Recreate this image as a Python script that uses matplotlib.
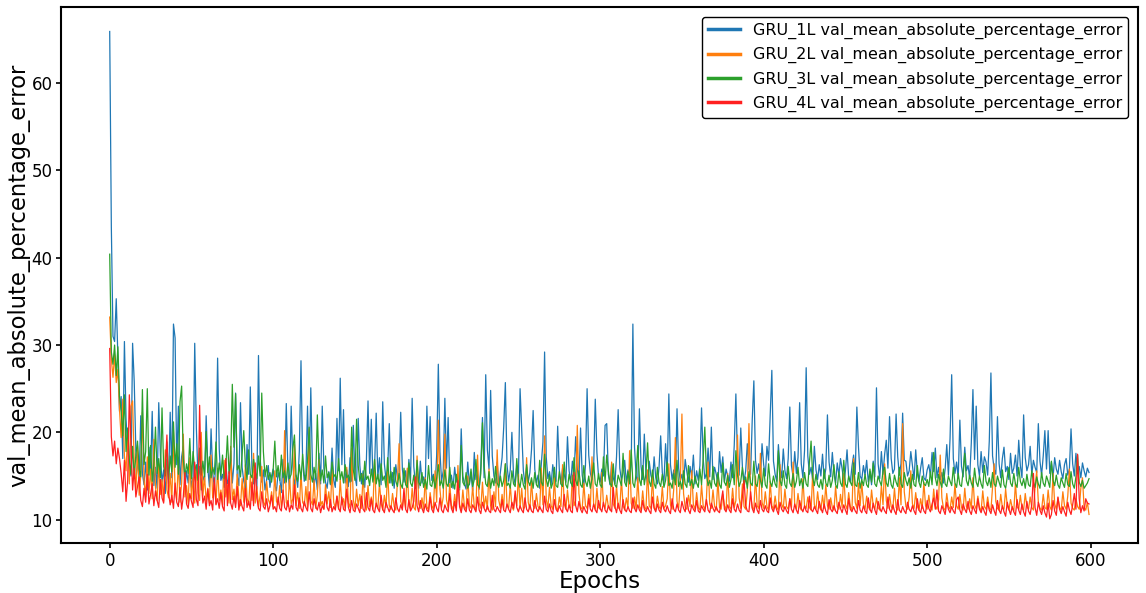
import matplotlib
matplotlib.use('Agg')
import matplotlib.pyplot as plt
import numpy as np

# validation MAPE per epoch
gru_1l = [
    65.9, 43.5, 31.0, 30.4, 35.3, 28.6, 22.4, 24.1, 17.0, 30.4, 21.5, 18.1, 16.4, 15.0, 30.2, 25.8, 17.9, 16.2, 14.6, 21.9,
    15.3, 14.0, 16.6, 13.4, 18.3, 15.1, 22.4, 13.9, 16.0, 13.6, 23.4, 17.4, 14.3, 15.7, 13.0, 16.9, 14.1, 22.3, 14.8, 32.4,
    30.8, 16.3, 23.0, 14.0, 17.2, 18.4, 13.5, 15.6, 14.2, 16.7, 13.7, 14.9, 30.2, 20.5, 14.6, 16.1, 13.4, 15.0, 14.3, 21.9,
    15.9, 13.8, 20.4, 15.4, 13.6, 17.0, 28.5, 18.1, 14.5, 15.2, 13.7, 16.6, 14.1, 14.8, 17.9, 14.2, 16.4, 24.5, 15.0, 13.9,
    23.4, 16.0, 14.4, 13.6, 18.6, 15.2, 25.2, 15.8, 14.1, 15.6, 13.5, 28.8, 17.2, 14.3, 15.7, 13.4, 14.6, 16.2, 13.7, 15.0,
    15.8, 14.0, 13.3, 15.4, 14.7, 13.1, 16.9, 14.2, 23.3, 15.5, 13.6, 23.0, 16.3, 13.9, 15.1, 13.7, 18.0, 28.2, 16.8, 14.4,
    15.2, 23.0, 14.6, 25.1, 16.1, 13.8, 15.3, 13.4, 17.6, 14.1, 23.0, 15.9, 14.3, 13.6, 15.5, 14.0, 18.2, 14.5, 13.7, 21.6,
    15.6, 26.2, 16.3, 22.6, 14.2, 15.7, 13.8, 17.1, 14.4, 20.8, 15.0, 13.9, 21.6, 16.2, 14.1, 15.6, 13.7, 16.8, 23.6, 15.3,
    21.5, 14.5, 16.0, 22.2, 14.8, 17.1, 14.0, 23.5, 16.4, 14.6, 15.7, 21.0, 14.2, 15.4, 13.6, 16.3, 14.7, 15.2, 22.3, 15.8,
    14.3, 15.6, 13.7, 16.9, 14.4, 23.9, 16.1, 14.0, 15.3, 13.6, 16.7, 14.2, 14.9, 13.8, 23.0, 17.0, 21.8, 14.5, 15.2, 13.7,
    17.4, 27.8, 17.8, 14.4, 15.6, 23.9, 15.9, 21.7, 14.2, 15.1, 13.6, 16.0, 14.3, 14.8, 13.4, 20.4, 15.0, 14.1, 13.5, 16.6,
    14.0, 15.4, 13.3, 17.7, 14.6, 15.2, 13.5, 16.1, 21.7, 14.8, 26.6, 18.0, 15.8, 24.8, 17.3, 15.0, 14.2, 16.6, 13.9, 15.5,
    17.1, 20.6, 25.7, 16.3, 14.4, 15.7, 20.0, 15.1, 14.0, 16.2, 14.9, 25.0, 20.4, 15.6, 14.1, 16.0, 14.3, 15.4, 18.0, 22.5,
    15.8, 14.2, 15.1, 13.6, 16.4, 18.9, 29.2, 17.2, 14.7, 15.5, 14.0, 16.3, 14.8, 14.4, 20.7, 15.7, 14.1, 15.9, 15.2, 14.3,
    19.5, 15.6, 14.2, 16.7, 15.0, 19.5, 15.8, 14.4, 20.5, 15.1, 13.9, 16.2, 25.0, 17.4, 15.3, 14.6, 16.0, 23.8, 17.7, 14.9,
    14.3, 15.8, 15.0, 20.8, 21.0, 15.2, 14.0, 16.4, 14.8, 14.1, 17.2, 22.6, 15.9, 14.5, 15.4, 16.8, 14.2, 15.7, 14.6, 16.3,
    32.4, 18.3, 15.0, 14.2, 22.7, 16.1, 14.6, 19.8, 15.3, 14.0, 16.7, 15.1, 14.4, 17.2, 14.8, 14.1, 16.0, 19.6, 15.4, 14.2,
    18.7, 15.0, 24.4, 16.3, 14.6, 15.7, 14.2, 22.7, 15.9, 14.4, 15.2, 14.0, 16.9, 15.5, 14.3, 16.1, 14.8, 17.4, 14.1, 15.6,
    14.5, 16.2, 22.8, 17.0, 14.7, 15.3, 18.2, 14.9, 20.6, 14.6, 16.0, 15.2, 14.1, 17.8, 15.4, 17.2, 14.3, 15.8, 15.0, 14.4,
    16.6, 14.8, 18.5, 24.4, 16.9, 15.1, 20.5, 16.0, 14.4, 15.6, 18.7, 15.8, 15.2, 21.4, 25.9, 16.8, 15.3, 16.4, 14.6, 18.7,
    16.3, 15.0, 18.4, 16.8, 21.8, 27.1, 16.7, 15.2, 14.4, 18.6, 16.0, 14.8, 18.1, 15.6, 14.7, 17.0, 22.9, 16.2, 14.9, 17.8,
    15.3, 17.1, 23.4, 16.4, 14.8, 17.9, 27.4, 17.3, 15.2, 16.0, 14.5, 18.4, 15.7, 14.6, 16.3, 15.0, 17.5, 14.7, 15.8, 22.0,
    16.6, 14.9, 17.7, 15.3, 14.2, 16.5, 15.1, 17.0, 15.8, 14.4, 15.6, 18.0, 14.8, 14.3, 16.1, 17.4, 15.2, 22.9, 18.3, 15.0,
    14.6, 16.2, 15.1, 16.8, 14.3, 15.5, 14.0, 16.7, 14.9, 25.1, 16.4, 14.7, 17.8, 15.2, 17.5, 19.1, 15.9, 21.8, 17.0, 15.3,
    15.8, 22.1, 17.2, 15.1, 16.4, 22.2, 16.8, 16.7, 15.0, 15.6, 17.8, 16.2, 14.6, 18.0, 15.3, 14.4, 15.9, 17.1, 14.8, 14.5,
    15.7, 16.3, 15.0, 17.7, 15.5, 18.2, 14.8, 16.0, 14.6, 15.4, 14.2, 15.8, 18.6, 15.1, 19.3, 26.6, 17.0, 15.3, 16.6, 14.8,
    21.4, 16.1, 14.9, 18.3, 15.6, 16.2, 14.7, 18.8, 24.9, 16.9, 23.0, 16.3, 15.0, 17.8, 15.4, 17.2, 16.6, 15.1, 19.0, 26.8,
    17.3, 15.8, 15.2, 21.8, 16.4, 14.8, 17.0, 18.3, 15.5, 16.1, 14.6, 17.6, 15.3, 15.9, 17.4, 15.0, 19.1, 16.2, 14.8, 22.0,
    17.1, 15.6, 16.3, 18.4, 15.2, 16.8, 16.0, 15.4, 21.0, 16.7, 15.1, 17.3, 20.2, 15.8, 20.2, 15.3, 16.6, 14.9, 17.1, 15.8,
    15.2, 16.8, 15.5, 14.7, 16.3, 17.0, 15.1, 15.8, 20.4, 16.4, 15.0, 17.6, 15.3, 16.1, 14.8, 16.5, 15.6, 14.9, 15.9, 15.4,
]

gru_2l = [
    33.2, 28.4, 26.3, 28.9, 25.7, 27.2, 22.6, 19.4, 23.8, 17.3, 15.6, 20.2, 14.1, 23.0, 23.6, 16.4, 13.2, 18.5, 12.8, 15.1,
    22.3, 14.5, 12.6, 17.2, 13.0, 15.8, 12.4, 19.2, 13.7, 12.2, 16.4, 12.9, 14.6, 12.1, 18.0, 13.4, 12.5, 15.3, 12.0, 20.1,
    13.5, 12.3, 16.7, 12.0, 14.2, 19.8, 12.6, 13.9, 11.8, 17.1, 12.4, 14.8, 11.9, 16.2, 13.1, 12.2, 20.0, 12.7, 15.0, 12.1,
    13.6, 11.9, 17.4, 12.5, 14.3, 11.8, 15.9, 12.2, 13.4, 11.7, 16.8, 12.6, 14.0, 11.9, 18.4, 12.3, 13.5, 11.8, 15.2, 12.4,
    11.6, 14.7, 12.0, 16.3, 12.5, 11.7, 15.0, 12.2, 17.6, 11.9, 13.8, 11.5, 12.8, 16.1, 12.0, 11.6, 14.4, 12.3, 11.8, 13.2,
    11.5, 15.6, 12.1, 11.7, 13.9, 11.4, 12.6, 20.2, 12.0, 11.5, 14.8, 11.8, 12.4, 18.6, 11.6, 13.1, 11.3, 15.4, 12.0, 11.6,
    13.8, 11.4, 20.4, 12.2, 11.7, 14.5, 11.3, 12.8, 16.9, 11.6, 12.1, 11.2, 14.0, 11.8, 13.2, 11.4, 15.7, 12.0, 11.3, 12.7,
    11.2, 14.6, 11.7, 12.4, 11.3, 16.0, 11.9, 11.4, 18.2, 12.3, 11.2, 13.5, 11.6, 12.9, 11.3, 15.2, 11.8, 11.1, 13.9, 11.5,
    12.6, 11.2, 16.8, 11.7, 11.3, 14.2, 11.9, 11.1, 12.8, 11.4, 15.5, 11.6, 11.2, 13.0, 11.5, 11.1, 14.4, 18.7, 12.1, 11.4,
    12.7, 11.3, 15.9, 11.6, 11.2, 13.6, 11.4, 11.1, 17.3, 11.8, 11.3, 12.5, 11.2, 14.8, 11.5, 11.1, 13.1, 11.6, 11.2, 15.6,
    12.0, 21.4, 13.5, 11.4, 12.6, 19.8, 12.3, 11.3, 14.1, 11.6, 11.2, 12.9, 11.4, 16.2, 11.7, 11.1, 13.4, 11.5, 11.2, 15.0,
    11.6, 11.3, 13.8, 11.5, 11.1, 17.4, 11.9, 11.3, 14.3, 11.4, 12.7, 11.2, 15.8, 11.6, 11.1, 13.2, 11.5, 18.0, 12.2, 11.3,
    12.9, 11.2, 16.4, 11.7, 11.3, 14.0, 11.5, 11.1, 12.8, 11.6, 15.2, 11.3, 13.6, 11.2, 11.5, 17.1, 12.0, 11.2, 14.5, 11.6,
    11.3, 13.0, 11.5, 11.2, 15.9, 11.7, 19.6, 12.4, 11.3, 13.7, 11.6, 11.2, 14.8, 11.4, 11.1, 12.6, 11.5, 16.3, 11.8, 11.2,
    13.4, 11.5, 11.3, 15.1, 11.6, 12.2, 20.8, 13.0, 11.4, 11.2, 14.2, 11.6, 11.3, 12.9, 11.5, 17.2, 11.8, 11.2, 13.6, 11.4,
    11.2, 15.4, 11.7, 11.3, 12.8, 11.5, 11.1, 16.6, 11.8, 11.3, 13.9, 11.4, 11.2, 14.7, 11.6, 11.1, 12.5, 11.4, 17.9, 11.9,
    11.3, 12.6, 11.2, 14.8, 11.5, 11.1, 13.3, 11.4, 11.2, 15.7, 11.6, 11.3, 14.9, 11.4, 11.1, 12.7, 11.5, 11.2, 13.8, 11.3,
    11.6, 12.4, 16.4, 11.7, 11.2, 13.5, 19.4, 12.1, 11.3, 14.2, 22.1, 13.0, 11.4, 11.2, 12.8, 11.5, 15.6, 11.7, 11.2, 13.1,
    11.4, 11.1, 14.0, 11.6, 11.2, 12.5, 16.6, 11.8, 11.3, 13.4, 11.5, 11.1, 14.6, 11.4, 11.2, 12.9, 11.6, 11.1, 15.3, 11.5,
    11.2, 13.6, 11.4, 12.2, 19.7, 12.5, 11.3, 14.1, 11.5, 11.2, 13.3, 21.0, 12.8, 11.4, 11.2, 15.0, 11.6, 11.3, 17.6, 12.0,
    11.3, 13.2, 11.5, 11.1, 14.4, 11.6, 11.2, 12.7, 11.4, 11.1, 16.3, 11.8, 11.3, 13.5, 11.5, 11.2, 12.4, 11.4, 16.6, 11.7,
    11.2, 13.0, 11.5, 11.1, 14.7, 11.6, 11.3, 12.6, 11.4, 11.1, 15.4, 11.7, 11.2, 13.2, 11.5, 11.1, 12.8, 11.3, 14.0, 11.6,
    11.2, 12.5, 11.4, 11.1, 13.8, 11.5, 11.2, 12.9, 11.4, 15.3, 11.7, 11.2, 13.1, 11.5, 11.1, 17.0, 12.0, 11.3, 14.2, 11.6,
    14.3, 11.8, 11.2, 12.7, 11.5, 11.1, 13.4, 11.6, 11.2, 12.5, 11.4, 11.1, 13.9, 11.7, 16.4, 12.2, 11.3, 12.9, 11.5, 11.2,
    13.6, 11.4, 11.1, 14.8, 11.7, 21.0, 13.2, 11.5, 11.2, 12.6, 15.6, 11.8, 11.3, 13.1, 11.5, 11.1, 12.4, 11.3, 14.3, 11.6,
    11.2, 12.8, 11.4, 11.1, 13.5, 11.6, 11.2, 12.3, 17.4, 12.5, 11.3, 11.1, 13.0, 11.5, 11.2, 12.6, 11.4, 14.1, 11.6, 11.2,
    12.9, 11.4, 11.1, 13.6, 11.5, 11.2, 12.4, 11.3, 14.8, 11.7, 11.2, 12.7, 11.4, 11.0, 13.3, 11.5, 11.2, 12.6, 11.3, 11.1,
    13.8, 16.4, 12.1, 11.3, 11.1, 12.9, 11.4, 11.2, 13.5, 11.6, 11.1, 12.3, 11.4, 11.0, 14.2, 11.5, 11.2, 12.8, 11.3, 11.1,
    13.0, 11.5, 11.2, 12.6, 11.4, 11.1, 13.7, 15.6, 12.0, 11.3, 11.1, 12.9, 11.4, 11.2, 13.4, 11.5, 11.1, 15.3, 11.8, 11.2,
    12.5, 11.4, 11.1, 13.2, 11.6, 11.2, 12.7, 15.8, 11.9, 11.3, 11.1, 12.4, 11.5, 11.2, 13.6, 14.8, 11.4, 11.1, 12.0, 10.6,
]

gru_3l = [
    40.4, 29.2, 27.8, 30.0, 26.5, 29.8, 24.1, 22.5, 19.6, 24.3, 17.8, 20.5, 16.9, 15.2, 18.4, 14.7, 17.5, 19.0, 15.8, 14.9,
    24.9, 16.3, 17.8, 25.0, 15.1, 18.5, 14.4, 16.2, 20.6, 15.3, 17.0, 14.8, 22.8, 16.1, 15.0, 18.9, 14.6, 17.3, 15.5, 21.2,
    16.0, 18.7, 15.2, 23.5, 25.3, 17.0, 14.9, 16.4, 15.3, 19.3, 14.7, 17.8, 15.6, 16.3, 14.5, 18.2, 15.1, 16.7, 14.9, 20.1,
    15.4, 17.2, 14.8, 16.0, 15.2, 18.9, 14.6, 16.5, 15.0, 17.4, 14.7, 15.9, 19.6, 15.3, 16.8, 25.5, 18.3, 24.4, 15.7, 16.2,
    14.9, 17.6, 20.2, 16.1, 14.6, 18.0, 15.2, 14.8, 16.9, 15.5, 14.7, 17.3, 15.0, 24.5, 17.8, 14.9, 16.2, 14.6, 15.4, 14.3,
    15.8, 19.0, 14.9, 16.2, 14.5, 17.4, 14.8, 15.6, 14.3, 16.5, 14.7, 15.2, 18.1, 19.7, 15.0, 14.4, 16.3, 14.6, 17.5, 15.1,
    14.5, 16.8, 20.6, 15.2, 14.3, 16.0, 14.7, 22.0, 16.4, 14.5, 15.7, 14.2, 17.3, 14.8, 15.4, 14.1, 16.6, 14.9, 15.2, 14.4,
    17.0, 14.6, 15.5, 14.2, 16.3, 14.8, 15.1, 14.3, 20.6, 15.7, 14.5, 21.5, 16.2, 14.4, 15.3, 14.0, 16.7, 14.6, 15.0, 13.9,
    15.8, 14.3, 16.9, 14.1, 15.2, 13.8, 16.4, 14.5, 15.0, 13.7, 17.1, 14.2, 15.5, 13.9, 16.0, 14.4, 13.8, 15.3, 14.1, 13.6,
    15.9, 14.0, 13.7, 16.5, 14.2, 13.8, 15.1, 13.6, 16.8, 14.3, 13.9, 15.4, 13.7, 14.6, 13.5, 16.2, 14.0, 13.8, 15.0, 13.6,
    14.8, 16.3, 13.9, 14.5, 13.6, 15.7, 14.1, 13.8, 16.0, 13.7, 14.4, 13.5, 15.2, 14.0, 13.7, 18.5, 14.3, 13.9, 15.4, 13.6,
    14.2, 15.8, 13.8, 14.6, 16.9, 14.0, 13.7, 15.3, 21.1, 16.2, 14.1, 13.8, 15.5, 13.6, 14.7, 13.9, 16.1, 14.2, 13.7, 15.0,
    13.8, 14.5, 16.4, 13.9, 14.2, 13.6, 15.6, 14.1, 13.8, 17.0, 14.3, 13.7, 15.2, 14.0, 13.5, 16.3, 14.4, 13.9, 14.8, 13.6,
    15.4, 14.0, 13.7, 16.8, 14.3, 13.9, 17.5, 14.6, 13.8, 15.1, 13.6, 14.2, 16.0, 13.9, 13.7, 15.5, 14.1, 13.8, 16.6, 14.0,
    13.6, 15.2, 14.3, 13.8, 17.1, 14.5, 13.9, 15.6, 14.0, 13.7, 16.2, 14.4, 13.8, 15.0, 13.6, 14.7, 16.5, 14.1, 13.8, 15.3,
    14.0, 13.7, 17.2, 14.4, 17.4, 15.6, 14.2, 13.8, 16.4, 14.0, 13.7, 15.1, 14.5, 13.9, 17.6, 14.3, 13.8, 15.5, 14.1, 18.0,
    14.2, 13.7, 15.4, 18.5, 14.6, 13.9, 16.2, 14.0, 15.3, 18.8, 14.4, 13.8, 15.7, 14.1, 13.6, 16.0, 14.3, 13.8, 15.2, 13.7,
    14.5, 16.6, 13.9, 14.2, 13.6, 15.3, 14.0, 16.8, 13.8, 14.4, 13.5, 15.6, 14.1, 13.7, 16.2, 13.9, 14.6, 13.6, 15.0, 14.2,
    13.7, 15.8, 14.0, 17.0, 20.6, 15.2, 13.9, 14.5, 13.6, 16.1, 14.2, 13.8, 15.4, 14.0, 13.6, 16.5, 14.3, 13.9, 15.1, 13.7,
    14.6, 16.3, 14.0, 17.9, 15.1, 13.8, 14.4, 16.0, 13.7, 14.9, 13.6, 15.5, 14.2, 13.9, 16.7, 14.1, 13.8, 15.2, 14.5, 13.7,
    15.9, 14.0, 13.6, 16.4, 14.3, 13.8, 15.0, 14.1, 13.7, 17.9, 14.5, 13.9, 15.6, 14.0, 13.6, 16.1, 14.2, 13.8, 15.3, 13.7,
    14.4, 16.0, 13.9, 14.7, 13.6, 15.4, 14.1, 13.8, 16.6, 19.0, 14.8, 13.9, 15.2, 14.0, 13.7, 14.6, 13.5, 15.8, 14.2, 13.8,
    15.1, 13.7, 14.5, 16.3, 14.0, 13.6, 15.5, 14.2, 13.8, 16.8, 14.1, 13.7, 15.0, 14.3, 13.9, 16.5, 14.0, 13.8, 15.4, 13.6,
    14.6, 13.9, 15.2, 14.0, 13.7, 15.8, 14.3, 16.5, 14.1, 13.8, 15.0, 14.4, 13.9, 15.6, 16.0, 14.2, 13.8, 15.3, 14.0, 13.6,
    15.1, 14.3, 13.8, 16.0, 14.1, 13.7, 15.4, 14.5, 13.9, 14.8, 13.6, 15.2, 14.0, 13.8, 16.2, 14.3, 13.7, 15.0, 14.1, 13.9,
    14.6, 13.8, 15.5, 14.0, 17.7, 14.8, 13.9, 15.2, 14.3, 13.7, 15.8, 14.1, 13.8, 15.0, 14.4, 13.9, 16.0, 14.2, 13.7, 15.3,
    14.0, 13.8, 15.6, 17.6, 14.5, 13.9, 15.1, 14.2, 13.7, 15.9, 14.3, 13.8, 15.0, 14.1, 13.6, 16.2, 14.4, 13.9, 14.8, 13.7,
    15.4, 14.1, 13.8, 15.0, 14.3, 13.7, 15.7, 14.0, 13.6, 14.9, 16.0, 14.2, 13.8, 15.3, 14.1, 13.7, 16.0, 14.4, 13.9, 14.7,
    13.6, 15.2, 14.0, 13.8, 15.6, 14.3, 13.7, 14.9, 14.1, 13.6, 15.4, 14.2, 13.8, 15.0, 14.4, 13.7, 16.7, 14.5, 13.9, 15.1,
    14.0, 13.6, 14.8, 14.2, 13.7, 15.3, 14.0, 13.8, 15.5, 14.1, 13.6, 14.9, 17.4, 14.3, 13.8, 14.5, 13.6, 13.9, 14.2, 14.7,
]

gru_4l = [
    29.6, 19.5, 17.3, 19.0, 16.4, 18.2, 17.0, 15.3, 13.2, 16.8, 12.1, 14.5, 24.3, 18.7, 13.4, 15.9, 12.6, 13.8, 14.9, 12.2,
    11.5, 13.6, 12.0, 15.2, 11.8, 12.9, 14.1, 11.6, 13.3, 12.2, 11.4, 14.6, 12.5, 11.9, 16.0, 19.7, 13.1, 11.7, 12.8, 11.3,
    14.2, 12.0, 11.5, 13.7, 11.2, 12.6, 15.4, 11.8, 11.3, 13.0, 12.1, 11.4, 16.6, 12.3, 11.6, 23.1, 14.4, 11.9, 12.7, 11.2,
    13.5, 11.6, 12.2, 11.1, 14.8, 11.7, 12.4, 11.3, 13.1, 11.5, 11.0, 17.0, 11.6, 15.5, 11.9, 11.2, 12.7, 11.4, 13.8, 11.1,
    12.3, 11.5, 11.0, 13.6, 11.4, 12.1, 11.2, 14.3, 11.6, 16.5, 12.5, 11.3, 11.0, 13.2, 11.5, 11.2, 12.4, 10.9, 11.6, 12.8,
    11.2, 11.5, 10.9, 12.6, 11.3, 11.0, 13.4, 11.4, 11.1, 12.2, 10.9, 11.7, 11.2, 14.0, 11.4, 11.0, 12.5, 11.3, 10.9, 12.1,
    11.4, 11.0, 13.2, 11.3, 10.9, 12.4, 11.5, 11.1, 12.0, 10.8, 11.6, 11.2, 12.9, 11.4, 11.0, 12.3, 10.9, 11.5, 11.1, 12.7,
    11.3, 10.9, 12.6, 11.2, 11.0, 13.5, 11.4, 10.8, 12.2, 11.1, 10.9, 11.8, 11.3, 10.8, 12.7, 11.2, 10.9, 13.1, 11.4, 11.0,
    12.4, 11.1, 10.8, 11.9, 11.3, 10.9, 12.8, 11.2, 10.8, 12.0, 11.4, 10.9, 11.6, 11.1, 10.8, 12.5, 11.3, 10.9, 11.7, 11.1,
    13.6, 11.2, 10.8, 12.3, 11.0, 11.4, 12.1, 14.9, 11.6, 10.9, 12.2, 11.3, 10.8, 11.8, 11.1, 10.9, 12.6, 11.2, 10.8, 12.0,
    11.3, 10.9, 12.5, 11.1, 10.8, 11.7, 11.2, 10.9, 13.0, 11.3, 10.8, 12.1, 11.0, 14.5, 11.5, 10.8, 11.9, 11.2, 10.9, 12.4,
    11.1, 10.8, 11.7, 11.3, 10.9, 12.6, 11.1, 10.7, 12.0, 11.3, 10.9, 11.6, 11.0, 10.8, 12.8, 11.2, 10.9, 11.5, 11.1, 10.8,
    12.3, 11.1, 10.9, 11.8, 11.2, 10.8, 12.0, 11.3, 13.3, 11.4, 10.9, 11.6, 11.1, 10.8, 12.5, 11.2, 10.9, 11.7, 11.0, 10.8,
    12.2, 11.3, 10.9, 11.5, 11.1, 10.8, 12.7, 11.2, 10.9, 11.8, 11.0, 10.7, 12.3, 11.2, 10.9, 11.6, 11.1, 10.8, 12.9, 11.3,
    10.9, 11.7, 11.0, 10.8, 15.4, 11.6, 10.9, 12.1, 11.2, 10.8, 11.5, 11.0, 10.7, 12.4, 11.2, 10.9, 11.8, 11.1, 10.8, 12.2,
    11.3, 10.9, 12.0, 11.1, 10.8, 11.6, 11.2, 10.9, 13.7, 11.5, 10.8, 11.9, 11.1, 10.7, 12.3, 11.2, 10.9, 11.5, 11.0, 10.8,
    12.5, 11.3, 10.9, 11.7, 11.1, 10.8, 12.2, 11.2, 10.9, 11.5, 11.0, 10.7, 12.6, 11.3, 10.9, 11.8, 11.1, 10.8, 12.0, 11.2,
    10.9, 11.6, 11.0, 10.7, 12.4, 11.2, 10.9, 11.8, 11.1, 10.8, 12.1, 11.3, 10.9, 12.5, 11.1, 10.7, 11.7, 11.2, 10.9, 12.2,
    11.0, 10.8, 11.6, 11.2, 10.9, 12.3, 11.1, 10.8, 11.9, 11.3, 10.9, 11.5, 11.0, 10.8, 12.1, 13.3, 11.2, 10.9, 11.7, 11.1,
    10.8, 12.4, 11.2, 10.9, 11.8, 11.1, 10.8, 12.6, 14.5, 11.6, 11.0, 10.9, 13.2, 11.3, 10.8, 11.9, 11.1, 10.7, 12.2, 11.2,
    10.9, 11.6, 11.0, 10.8, 12.5, 11.3, 10.9, 11.7, 11.1, 10.6, 12.0, 11.2, 10.9, 11.5, 11.0, 10.7, 12.4, 11.2, 10.8, 11.8,
    11.1, 10.7, 12.2, 11.3, 10.9, 11.6, 11.0, 10.8, 12.7, 11.2, 10.9, 11.5, 11.1, 10.7, 12.1, 11.3, 10.8, 11.8, 11.0, 10.6,
    12.3, 11.2, 10.9, 11.6, 11.0, 10.7, 12.0, 11.3, 10.8, 11.7, 11.1, 10.6, 12.4, 11.2, 10.9, 11.5, 11.0, 10.7, 12.2, 11.1,
    10.8, 11.6, 11.0, 10.7, 12.5, 11.2, 10.8, 11.9, 11.1, 10.6, 12.1, 11.3, 10.9, 11.5, 11.0, 10.7, 12.6, 11.2, 10.8, 11.7,
    11.0, 10.6, 12.3, 11.1, 10.8, 11.5, 11.0, 10.7, 12.0, 11.2, 10.9, 11.6, 11.0, 10.6, 12.4, 11.1, 10.8, 11.7, 11.0, 10.7,
    12.2, 11.3, 10.9, 11.8, 12.5, 11.2, 13.4, 11.0, 10.7, 11.6, 11.1, 10.6, 12.0, 11.2, 10.8, 11.5, 11.0, 10.7, 12.3, 12.6,
    11.1, 10.6, 11.8, 11.2, 10.8, 12.1, 11.0, 10.6, 11.6, 11.1, 10.7, 12.4, 11.2, 10.8, 11.5, 10.9, 10.5, 12.0, 11.1, 10.7,
    11.7, 11.0, 10.5, 12.2, 11.1, 10.7, 11.6, 10.9, 10.4, 12.0, 11.2, 10.6, 11.5, 10.9, 10.5, 12.3, 11.1, 10.6, 11.8, 10.9,
    10.4, 12.1, 11.0, 10.6, 11.7, 15.3, 11.4, 10.5, 12.0, 11.1, 10.6, 11.6, 10.8, 10.3, 11.9, 10.1, 10.6, 12.2, 11.0, 10.5,
    12.6, 11.2, 10.7, 11.5, 10.9, 10.4, 12.0, 11.1, 10.6, 11.7, 13.0, 11.2, 17.5, 12.4, 10.8, 11.6, 11.0, 12.4, 11.9, 11.8,
]

series = [
    ('GRU_1L val_mean_absolute_percentage_error', gru_1l, '#1f77b4'),
    ('GRU_2L val_mean_absolute_percentage_error', gru_2l, '#ff7f0e'),
    ('GRU_3L val_mean_absolute_percentage_error', gru_3l, '#2ca02c'),
    ('GRU_4L val_mean_absolute_percentage_error', gru_4l, '#ff2020'),
]

fig = plt.figure(figsize=(11.46, 5.93), dpi=100)
ax = fig.add_axes([0.053, 0.084, 0.940, 0.904])

for label, vals, col in series:
    ax.plot(np.arange(len(vals)), vals, color=col, linewidth=0.9, label=label)

ax.set_xlabel('Epochs', fontsize=16.5, labelpad=0)
ax.set_ylabel('val_mean_absolute_percentage_error', fontsize=16.3, labelpad=1)
ax.tick_params(labelsize=12, width=1.2, pad=2.5)
for sp in ax.spines.values():
    sp.set_linewidth(1.5)

leg = ax.legend(loc='upper right', fontsize=11.5, edgecolor='black', framealpha=1,
                borderaxespad=0.6)
for ln in leg.get_lines():
    ln.set_linewidth(2.5)

fig.savefig('out.png', dpi=100)
